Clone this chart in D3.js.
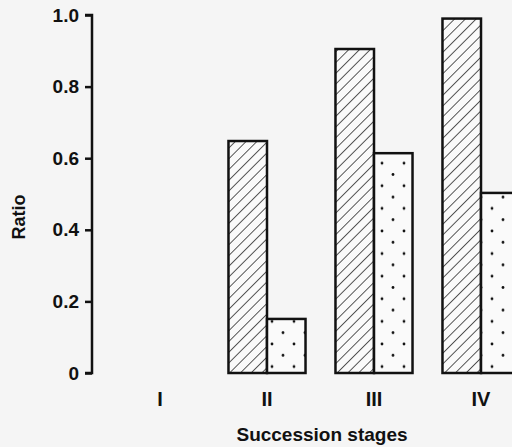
<!DOCTYPE html>
<html>
<head>
<meta charset="utf-8">
<script src="https://cdn.jsdelivr.net/npm/d3@7"></script>
<style>
  body { margin: 0; background: #f5f5f5; }
  svg { display: block; }
  text { font-family: "Liberation Sans", Arial, sans-serif; fill: #111; }
</style>
</head>
<body>
<script>
// dati
var stages = ["I", "II", "III", "IV"];
var series = ["hatched", "dotted"];
var hatchedValues = [null, 0.648, 0.905, 0.99];
var dottedValues = [null, 0.151, 0.614, 0.503];
var yTicks = [0, 0.2, 0.4, 0.6, 0.8, 1.0];

var width = 512, height = 447;

var svg = d3.select("body").append("svg")
    .attr("width", width)
    .attr("height", height);

// pattern per i riempimenti
var defs = svg.append("defs");
var hatch = defs.append("pattern")
    .attr("id", "hatch")
    .attr("patternUnits", "userSpaceOnUse")
    .attr("width", 7.6)
    .attr("height", 8)
    .attr("patternTransform", "rotate(45)");
hatch.append("rect").attr("width", 7.6).attr("height", 8).attr("fill", "#fafafa");
hatch.append("line")
    .attr("x1", 0).attr("y1", 0).attr("x2", 0).attr("y2", 8)
    .attr("stroke", "#111").attr("stroke-width", 1.4);

var dots = defs.append("pattern")
    .attr("id", "dots")
    .attr("patternUnits", "userSpaceOnUse")
    .attr("x", 8).attr("y", 5)
    .attr("width", 22)
    .attr("height", 22.6);
dots.append("rect").attr("width", 22).attr("height", 22.6).attr("fill", "#fafafa");
dots.append("circle").attr("cx", 0).attr("cy", 0).attr("r", 1.4).attr("fill", "#111");
dots.append("circle").attr("cx", 22).attr("cy", 0).attr("r", 1.4).attr("fill", "#111");
dots.append("circle").attr("cx", 0).attr("cy", 22.6).attr("r", 1.4).attr("fill", "#111");
dots.append("circle").attr("cx", 22).attr("cy", 22.6).attr("r", 1.4).attr("fill", "#111");
dots.append("circle").attr("cx", 11).attr("cy", 11.3).attr("r", 1.4).attr("fill", "#111");

// scale
var x = d3.scaleBand().domain(stages).range([106.5, 534.5])
    .paddingInner(0.28).paddingOuter(0.14);
var xSub = d3.scaleBand().domain(series).range([0, x.bandwidth()]);
var y = d3.scaleLinear().domain([0, 1]).range([373, 15]);

var fills = { hatched: "url(#hatch)", dotted: "url(#dots)" };
var rows = [];
stages.forEach(function(s, i) {
    rows.push({ stage: s, key: "hatched", value: hatchedValues[i] });
    rows.push({ stage: s, key: "dotted", value: dottedValues[i] });
});

// barre
svg.append("g").selectAll("rect")
    .data(rows.filter(function(d) { return d.value != null; }))
    .join("rect")
    .attr("x", function(d) { return x(d.stage) + xSub(d.key); })
    .attr("y", function(d) { return y(d.value); })
    .attr("width", xSub.bandwidth())
    .attr("height", function(d) { return y(0) - y(d.value); })
    .attr("fill", function(d) { return fills[d.key]; })
    .attr("stroke", "#111")
    .attr("stroke-width", 2.5);

// asse y
var yAxis = svg.append("g")
    .attr("transform", "translate(92,0)")
    .call(d3.axisLeft(y).tickValues(yTicks).tickSize(7).tickPadding(6)
        .tickFormat(function(d) { return d === 0 ? "0" : d3.format(".1f")(d); }));
yAxis.select(".domain").attr("d", "M-7," + y(1) + "H0V" + y(0) + "H-7")
    .attr("stroke", "#111").attr("stroke-width", 2.5).attr("fill", "none");
yAxis.selectAll(".tick line").attr("stroke", "#111").attr("stroke-width", 2.5);
yAxis.selectAll(".tick text")
    .style("font-size", "19px").style("font-weight", "bold")
    .attr("fill", "#111");

// etichette categorie
svg.append("g").selectAll("text")
    .data(stages)
    .join("text")
    .attr("x", function(d) { return x(d) + x.bandwidth() / 2; })
    .attr("y", 406)
    .attr("text-anchor", "middle")
    .style("font-size", "20px")
    .style("font-weight", "bold")
    .text(function(d) { return d; });

// titoli assi
svg.append("text")
    .attr("x", 322).attr("y", 441)
    .attr("text-anchor", "middle")
    .style("font-size", "19px")
    .style("font-weight", "bold")
    .text("Succession stages");

svg.append("text")
    .attr("transform", "translate(25,217) rotate(-90)")
    .attr("text-anchor", "middle")
    .style("font-size", "18px")
    .style("font-weight", "bold")
    .text("Ratio");
</script>
</body>
</html>
